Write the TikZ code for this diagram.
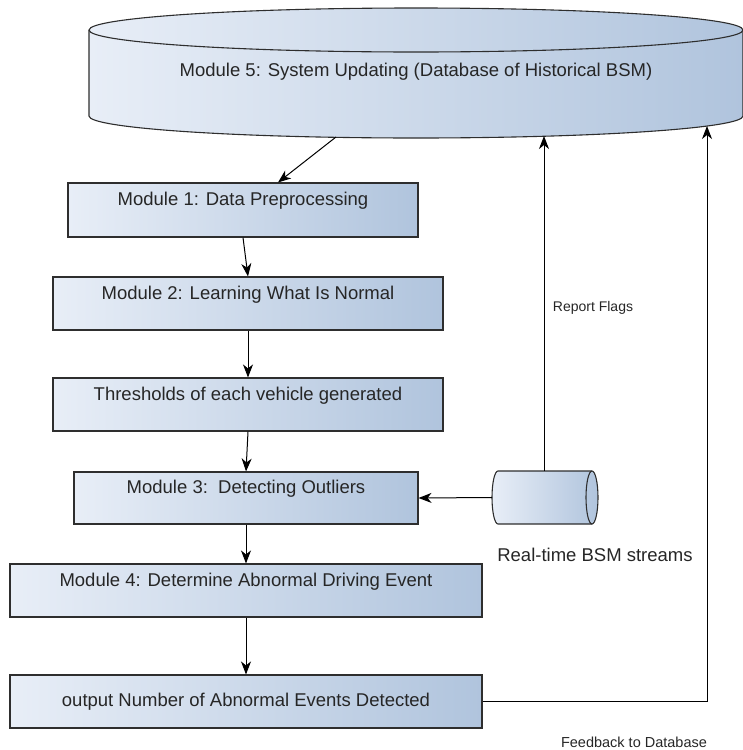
\documentclass[tikz,border=0pt]{standalone}
\usepackage{fontspec}
\setmainfont{Liberation Sans}
\usetikzlibrary{arrows.meta}
\definecolor{boxL}{HTML}{E8EEF7}
\definecolor{boxR}{HTML}{B0C4DD}
\definecolor{edge}{HTML}{2E2E2E}
\definecolor{txt}{HTML}{262626}

\begin{document}
\begin{tikzpicture}[x=1pt,y=-1pt,
  module/.style={draw=edge, line width=1.1pt, left color=boxL, right color=boxR,
    inner sep=0pt, minimum height=53pt, text height=13.5pt, text depth=22pt,
    text=txt, font=\fontsize{18.5}{22}\selectfont},
  lbl/.style={text=txt, inner sep=0pt},
  flow/.style={-{Stealth[length=13pt,width=10pt,inset=4pt]}, line width=1pt, draw=black}]
  \useasboundingbox (0,0) rectangle (743,750);

  % Database of historical BSM (Module 5)
  \draw[left color=boxL, right color=boxR, draw=edge, line width=1.1pt]
    (89,30) -- (89,116) arc[start angle=180, end angle=360, x radius=327pt, y radius=22pt]
    -- (743,30) arc[start angle=0, end angle=180, x radius=327pt, y radius=22pt] -- cycle;
  \draw[edge, line width=1.1pt] (89,30) arc[start angle=180, end angle=360, x radius=327pt, y radius=22pt];
  \node[lbl, font=\fontsize{18.5}{22}\selectfont] (db) at (416,72) {Module 5: System Updating (Database of Historical BSM)};
  \coordinate (dbout) at (336,137);
  \coordinate (flagin) at (544,136);
  \coordinate (fbin) at (707,126);

  % Real-time stream
  \draw[left color=boxL, right color=boxR, draw=edge, line width=1.1pt]
    (498,471) arc[start angle=90, end angle=270, x radius=6pt, y radius=26.5pt]
    -- (592,524) arc[start angle=270, end angle=450, x radius=6pt, y radius=26.5pt] -- cycle;
  \draw[edge, line width=1.1pt] (592,471) arc[start angle=90, end angle=270, x radius=6pt, y radius=26.5pt];
  \coordinate (bsmL) at (492,497.5);
  \coordinate (bsmT) at (544,471);
  \node[lbl, font=\fontsize{18.5}{22}\selectfont] (bsm) at (595,555) {Real-time BSM streams};

  % Modules 1--4 and output
  \node[module, minimum width=350pt, minimum height=54pt] (m1) at (243,210) {Module 1: Data Preprocessing};
  \node[module, minimum width=390pt] (m2) at (248,303.5) {Module 2: Learning What Is Normal};
  \node[module, minimum width=390pt] (thr) at (248,404.5) {Thresholds of each vehicle generated};
  \node[module, minimum width=344pt, minimum height=52pt] (m3) at (246,498) {Module 3:\ \ Detecting Outliers};
  \node[module, minimum width=472pt] (m4) at (246,590.5) {Module 4: Determine Abnormal Driving Event};
  \node[module, minimum width=472pt, text depth=3.5pt] (out) at (246,701.5) {output Number of Abnormal Events Detected};

  \node[lbl, font=\fontsize{14}{16}\selectfont] (flags) at (593,308) {Report Flags};
  \node[lbl, font=\fontsize{14.5}{17}\selectfont] (fb) at (634,742) {Feedback to Database};

  % connectors
  \draw[flow] (dbout) -- ([xshift=35pt]m1.north);
  \draw[flow] (m1.south) -- (m2.north);
  \draw[flow] (m2.south) -- (thr.north);
  \draw[flow] (thr.south) -- (m3.north);
  \draw[flow] (m3.south) -- (m4.north);
  \draw[flow] (m4.south) -- (out.north);
  \draw[flow] (bsmL) -- (m3.east);
  \draw[flow] (bsmT) -- (flagin);
  \draw[flow] (out.east) -| (fbin);
\end{tikzpicture}
\end{document}
